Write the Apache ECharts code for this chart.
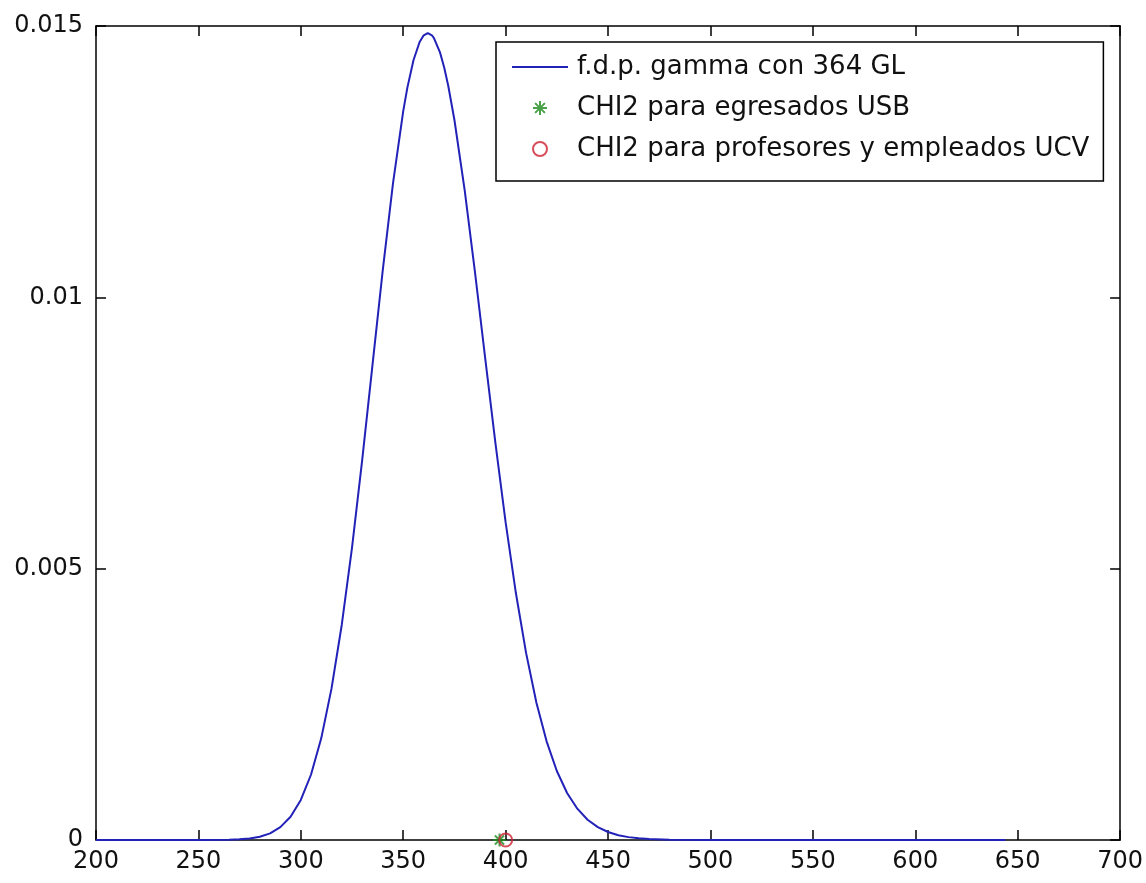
<!DOCTYPE html>
<html>
<head>
<meta charset="utf-8">
<script src="https://cdn.jsdelivr.net/npm/echarts@6/dist/echarts.min.js"></script>
<style>
html,body{margin:0;padding:0;background:#fff;}
#chart{width:1146px;height:883px;}
</style>
</head>
<body>
<div id="chart"></div>
<script>
// ---- data ----
var xValues = [200, 250, 265, 270, 275, 280, 285, 290, 295, 300, 305, 310, 315, 320, 325, 330, 335, 340, 345, 350, 352, 355, 358, 360, 362, 364, 365, 368, 370, 372, 375, 380, 385, 390, 395, 400, 405, 410, 415, 420, 425, 430, 435, 440, 445, 450, 455, 460, 465, 470, 480, 500, 644];
var pdfValues = [0, 0, 0.000004, 0.0000126, 0.000029, 0.000061, 0.000122, 0.000237, 0.000427, 0.000738, 0.001207, 0.001878, 0.002794, 0.003967, 0.005389, 0.007013, 0.008754, 0.010496, 0.012101, 0.013432, 0.01386, 0.014369, 0.014705, 0.014829, 0.01487, 0.014829, 0.014778, 0.014509, 0.014236, 0.013895, 0.013268, 0.011974, 0.010472, 0.008884, 0.007316, 0.005853, 0.004551, 0.003443, 0.002535, 0.001818, 0.001271, 0.000866, 0.000577, 0.000374, 0.000238, 0.000147, 0.000089, 0.000053, 0.000031, 0.000018, 0.000006, 0, 0];
var usbChi2 = [397];
var ucvChi2 = [400];
var xTickLabels = ['200','250','300','350','400','450','500','550','600','650','700'];
var yTickLabels = ['0','0.005','0.01','0.015'];
var seriesNames = ['f.d.p. gamma con 364 GL', 'CHI2 para egresados USB', 'CHI2 para profesores y empleados UCV'];

var lineData = xValues.map(function (x, i) { return [x, pdfValues[i]]; });
var usbData = usbChi2.map(function (x) { return [x, 0]; });
var ucvData = ucvChi2.map(function (x) { return [x, 0]; });

var FONT = 'DejaVu Sans';
var LINE_COLOR = '#2222b8';
var STAR_COLOR = '#1b8a1b';
var CIRCLE_COLOR = '#cc2233';
var starPath = 'path://M0,-10L0,10M-10,0L10,0M-7,-7L7,7M-7,7L7,-7';
var lineIconPath = 'path://M0,6L56,6L56,8L0,8Z';

var axisCommon = {
  type: 'value',
  min: 200, max: 700, interval: 50,
  axisLine: { show: true, onZero: false, lineStyle: { color: '#000', width: 1.5 } },
  axisTick: { show: true, inside: true, length: 10, lineStyle: { color: '#000', width: 1.5 } },
  splitLine: { show: false }
};

var chart = echarts.init(document.getElementById('chart'), null, { renderer: 'canvas' });
chart.setOption({
  backgroundColor: '#fff',
  animation: false,
  grid: { left: 96, right: 24, top: 26, bottom: 43, containLabel: false },
  xAxis: [
    Object.assign({}, axisCommon, {
      position: 'bottom',
      axisLabel: {
        show: true, color: '#111', fontFamily: FONT, fontSize: 24, margin: 10,
        formatter: function (v) { var i = Math.round((v - 200) / 50); return xTickLabels[i] !== undefined ? xTickLabels[i] : ''; }
      }
    }),
    Object.assign({}, axisCommon, { position: 'top', axisLabel: { show: false } })
  ],
  yAxis: [
    {
      type: 'value', min: 0, max: 0.015, interval: 0.005, position: 'left',
      axisLine: { show: true, onZero: false, lineStyle: { color: '#000', width: 1.5 } },
      axisTick: { show: true, inside: true, length: 10, lineStyle: { color: '#000', width: 1.5 } },
      splitLine: { show: false },
      axisLabel: {
        show: true, color: '#111', fontFamily: FONT, fontSize: 24, margin: 13,
        formatter: function (v) { var i = Math.round(v / 0.005); return yTickLabels[i] !== undefined ? yTickLabels[i] : ''; }
      }
    },
    {
      type: 'value', min: 0, max: 0.015, interval: 0.005, position: 'right',
      axisLine: { show: true, onZero: false, lineStyle: { color: '#000', width: 1.5 } },
      axisTick: { show: true, inside: true, length: 10, lineStyle: { color: '#000', width: 1.5 } },
      splitLine: { show: false },
      axisLabel: { show: false }
    }
  ],
  legend: {
    orient: 'vertical',
    left: 496, top: 42,
    backgroundColor: '#fff',
    borderColor: '#000', borderWidth: 1.5, borderRadius: 0,
    padding: [12, 14, 19, 16],
    itemGap: 15,
    itemWidth: 56, itemHeight: 14,
    textStyle: { fontFamily: FONT, fontSize: 26, color: '#111', padding: [0, 0, 0, 4] },
    selectedMode: false,
    data: [
      { name: seriesNames[0], icon: lineIconPath, itemStyle: { color: LINE_COLOR, borderWidth: 0 } },
      { name: seriesNames[1], icon: starPath, itemStyle: { color: 'rgba(0,0,0,0)', borderColor: STAR_COLOR, borderWidth: 2 } },
      { name: seriesNames[2], icon: 'circle', itemStyle: { color: 'rgba(0,0,0,0)', borderColor: CIRCLE_COLOR, borderWidth: 2 } }
    ]
  },
  series: [
    {
      name: seriesNames[0], type: 'line', data: lineData,
      xAxisIndex: 0, yAxisIndex: 0,
      symbol: 'none', showSymbol: false, smooth: false,
      lineStyle: { color: LINE_COLOR, width: 2 },
      itemStyle: { color: LINE_COLOR },
      z: 3
    },
    {
      name: seriesNames[1], type: 'scatter', data: usbData,
      xAxisIndex: 0, yAxisIndex: 0,
      symbol: starPath, symbolSize: 13, clip: false,
      itemStyle: { color: 'rgba(0,0,0,0)', borderColor: STAR_COLOR, borderWidth: 2 },
      z: 4
    },
    {
      name: seriesNames[2], type: 'scatter', data: ucvData,
      xAxisIndex: 0, yAxisIndex: 0,
      symbol: 'circle', symbolSize: 13, clip: false,
      itemStyle: { color: 'rgba(0,0,0,0)', borderColor: CIRCLE_COLOR, borderWidth: 2 },
      z: 5
    }
  ]
});
</script>
</body>
</html>
